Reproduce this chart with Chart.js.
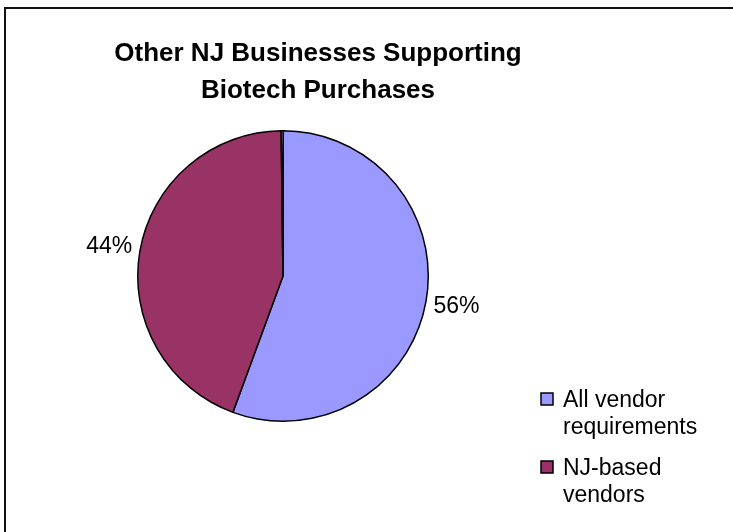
<!DOCTYPE html>
<html>
<head>
<meta charset="utf-8">
<script src="https://cdn.jsdelivr.net/npm/chart.js@4/dist/chart.umd.min.js"></script>
<style>
  html, body { margin: 0; padding: 0; background: #fff; }
  canvas { display: block; }
</style>
</head>
<body>
<canvas id="c" width="733" height="532"></canvas>
<script>
// ---- data ----
const titleLines = ["Other NJ Businesses Supporting", "Biotech Purchases"];
const categories = ["All vendor requirements", "NJ-based vendors", ""];
const values = [55.6, 44.2, 0.2];
const colors = ["#9999FF", "#993366", "#FFFFFF"];

const FONT = '"Liberation Sans", Arial, sans-serif';

function wrapText(ctx, text, maxW) {
  const words = text.split(" ");
  const lines = [];
  let cur = "";
  for (const w of words) {
    const t = cur ? cur + " " + w : w;
    if (cur && ctx.measureText(t).width > maxW) { lines.push(cur); cur = w; }
    else cur = t;
  }
  if (cur) lines.push(cur);
  return lines;
}

const decor = {
  id: "decor",
  beforeDraw(chart) {
    const ctx = chart.ctx;
    ctx.save();
    ctx.fillStyle = "#fff";
    ctx.fillRect(0, 0, chart.width, chart.height);
    ctx.strokeStyle = "#111";
    ctx.lineWidth = 2;
    ctx.strokeRect(5, 8, chart.width + 20, chart.height + 20);
    ctx.restore();
  },
  afterDraw(chart) {
    const ctx = chart.ctx;
    ctx.save();
    // title
    ctx.fillStyle = "#000";
    ctx.textAlign = "center";
    ctx.textBaseline = "alphabetic";
    ctx.font = "bold 26px " + FONT;
    titleLines.forEach((t, i) => ctx.fillText(t, 318, 61 + i * 37));

    // percentage labels
    const meta = chart.getDatasetMeta(0);
    const total = values.reduce((a, b) => a + b, 0);
    ctx.font = "23px " + FONT;
    ctx.textBaseline = "middle";
    meta.data.forEach((arc, i) => {
      const pct = values[i] / total * 100;
      if (pct < 1) return;
      const mid = (arc.startAngle + arc.endAngle) / 2;
      const r = arc.outerRadius + 31;
      const x = arc.x + Math.cos(mid) * r;
      const y = arc.y + Math.sin(mid) * r;
      ctx.fillText(Math.round(pct) + "%", x, y);
    });

    // legend
    ctx.textAlign = "left";
    ctx.textBaseline = "alphabetic";
    let base = 407;
    categories.forEach((cat, i) => {
      if (!cat) return;
      const lines = wrapText(ctx, cat, 145);
      ctx.fillStyle = colors[i];
      ctx.fillRect(541, base - 14, 12, 12);
      ctx.strokeStyle = "#000";
      ctx.lineWidth = 1.5;
      ctx.strokeRect(541, base - 14, 12, 12);
      ctx.fillStyle = "#000";
      lines.forEach((l, j) => ctx.fillText(l, 563, base + j * 27));
      base += (lines.length - 1) * 27 + 41;
    });
    ctx.restore();
  }
};

new Chart(document.getElementById("c"), {
  type: "pie",
  data: {
    labels: categories,
    datasets: [{
      data: values,
      backgroundColor: colors,
      borderColor: "#000",
      borderWidth: 1.5
    }]
  },
  options: {
    responsive: false,
    animation: false,
    layout: { padding: { left: 137, top: 130, right: 304, bottom: 110 } },
    plugins: {
      legend: { display: false },
      title: { display: false },
      tooltip: { enabled: false }
    }
  },
  plugins: [decor]
});
</script>
</body>
</html>
